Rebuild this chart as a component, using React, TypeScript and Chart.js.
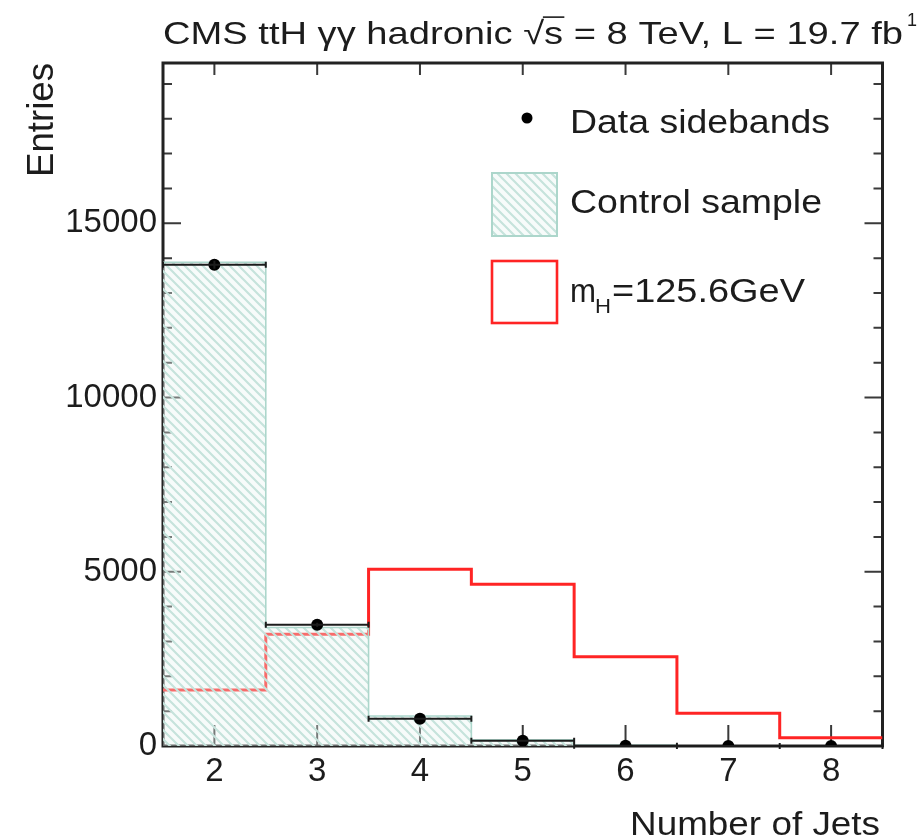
import React, { useEffect, useRef } from 'react';
import { Chart, registerables } from 'chart.js';

Chart.register(...registerables);

// Jet-multiplicity bins (bin centres) and per-bin entries
const jetBins = [2, 3, 4, 5, 6, 7, 8];
const dataSidebands = [13810, 3480, 780, 150, 10, 3, 1];
const controlSample = [13880, 3400, 860, 180, 20, 4, 1];
const signalMH = [1610, 3210, 5070, 4640, 2560, 940, 240];

// Axis ranges and tick values
const X_MIN = 1.5;
const X_MAX = 8.5;
const Y_MAX = 19600;
const xTickValues = [2, 3, 4, 5, 6, 7, 8];
const yMajorTicks = [0, 5000, 10000, 15000];
const yMinorTicks = [1000, 2000, 3000, 4000, 6000, 7000, 8000, 9000, 11000, 12000, 13000, 14000, 16000, 17000, 18000, 19000];

// Text
const titleRuns = ['CMS ttH ', 'γγ', ' hadronic ', '√', 's', ' = 8 TeV, L = 19.7 fb'];
const titleSup = '1';
const legendData = 'Data sidebands';
const legendControl = 'Control sample';
const legendSignalMain = 'm';
const legendSignalSub = 'H';
const legendSignalRest = '=125.6GeV';
const xTitle = 'Number of Jets';
const yTitle = 'Entries';

const W = 922;
const H = 840;
const FONT = '"Liberation Sans", Arial, Helvetica, sans-serif';
const RED = 'rgb(255, 36, 36)';
const HATCH_LINE = '#c6e3dc';
const HATCH_EDGE = '#acd6cb';
const INK = '#1c1c1c';

function histSteps(values: number[]) {
  const pts = jetBins.map((c, i) => ({ x: c - 0.5, y: values[i] }));
  const last = jetBins.length - 1;
  pts.push({ x: jetBins[last] + 0.5, y: values[last] });
  return pts;
}

function makeHatch(ctx: CanvasRenderingContext2D) {
  const s = 9;
  const c = document.createElement('canvas');
  c.width = s;
  c.height = s;
  const g = c.getContext('2d')!;
  g.fillStyle = 'rgba(232, 244, 241, 0.35)';
  g.fillRect(0, 0, s, s);
  g.strokeStyle = HATCH_LINE;
  g.lineWidth = 2.2;
  g.beginPath();
  g.moveTo(-2, -2);
  g.lineTo(s + 2, s + 2);
  g.moveTo(s - 3, -3);
  g.lineTo(s + 3, 3);
  g.moveTo(-3, s - 3);
  g.lineTo(3, s + 3);
  g.stroke();
  return ctx.createPattern(c, 'repeat')!;
}

// Draws text squeezed/stretched horizontally to a given width
function fitText(
  ctx: CanvasRenderingContext2D,
  text: string,
  x: number,
  y: number,
  size: number,
  width: number,
  align: 'left' | 'right' = 'left'
) {
  ctx.font = `${size}px ${FONT}`;
  const w = ctx.measureText(text).width;
  const sx = width / w;
  ctx.save();
  ctx.translate(x, y);
  ctx.scale(sx, 1);
  ctx.textAlign = 'left';
  ctx.textBaseline = 'alphabetic';
  ctx.fillText(text, align === 'right' ? -w : 0, 0);
  ctx.restore();
}

const backgroundPlugin = {
  id: 'whiteBackground',
  beforeDraw(chart: any) {
    const ctx = chart.ctx;
    ctx.save();
    ctx.fillStyle = '#ffffff';
    ctx.fillRect(0, 0, chart.width, chart.height);
    ctx.restore();
  },
};

// Frame with inward ticks on all four sides (drawn under the histograms)
const framePlugin = {
  id: 'rootFrame',
  beforeDatasetsDraw(chart: any) {
    const { ctx, chartArea: a, scales } = chart;
    const xs = scales.x;
    const ys = scales.y;
    ctx.save();
    ctx.strokeStyle = '#3a3a3a';
    ctx.lineWidth = 2;
    ctx.beginPath();
    yMajorTicks.forEach((v) => {
      const py = ys.getPixelForValue(v);
      ctx.moveTo(a.left, py);
      ctx.lineTo(a.left + 18, py);
      ctx.moveTo(a.right, py);
      ctx.lineTo(a.right - 18, py);
    });
    yMinorTicks.forEach((v) => {
      const py = ys.getPixelForValue(v);
      ctx.moveTo(a.left, py);
      ctx.lineTo(a.left + 9, py);
      ctx.moveTo(a.right, py);
      ctx.lineTo(a.right - 9, py);
    });
    xTickValues.forEach((v) => {
      const px = xs.getPixelForValue(v);
      ctx.moveTo(px, a.bottom);
      ctx.lineTo(px, a.bottom - 21);
      ctx.moveTo(px, a.top);
      ctx.lineTo(px, a.top + 12);
    });
    ctx.stroke();
    ctx.strokeStyle = '#222222';
    ctx.lineWidth = 3;
    ctx.strokeRect(a.left, a.top, a.right - a.left, a.bottom - a.top);
    ctx.restore();
  },
};

// Data error bars: bin-width horizontal bars with end marks, sqrt(N) vertical bars
const errorBarPlugin = {
  id: 'dataErrorBars',
  afterDatasetsDraw(chart: any) {
    const { ctx, scales } = chart;
    const xs = scales.x;
    const ys = scales.y;
    ctx.save();
    ctx.strokeStyle = INK;
    ctx.lineWidth = 2;
    ctx.beginPath();
    jetBins.forEach((c, i) => {
      const v = dataSidebands[i];
      const e = Math.sqrt(v);
      const x0 = xs.getPixelForValue(c - 0.5);
      const x1 = xs.getPixelForValue(c + 0.5);
      const xc = xs.getPixelForValue(c);
      const py = ys.getPixelForValue(v);
      ctx.moveTo(x0, py);
      ctx.lineTo(x1, py);
      ctx.moveTo(x0, py - 3);
      ctx.lineTo(x0, py + 3);
      ctx.moveTo(x1, py - 3);
      ctx.lineTo(x1, py + 3);
      ctx.moveTo(xc, ys.getPixelForValue(Math.max(0, v - e)));
      ctx.lineTo(xc, ys.getPixelForValue(v + e));
    });
    ctx.stroke();
    ctx.restore();
  },
};

// Title, axis titles and legend
const textPlugin = {
  id: 'rootTexts',
  afterDraw(chart: any) {
    const ctx: CanvasRenderingContext2D = chart.ctx;
    ctx.save();
    ctx.fillStyle = INK;

    // Title
    const size = 32;
    const base = 44;
    const x0 = 163;
    const target = 740;
    ctx.font = `${size}px ${FONT}`;
    const widths = titleRuns.map((r) => ctx.measureText(r).width);
    const total = widths.reduce((s, w) => s + w, 0);
    const sx = target / total;
    ctx.save();
    ctx.translate(x0, base);
    ctx.scale(sx, 1);
    ctx.textAlign = 'left';
    ctx.textBaseline = 'alphabetic';
    let cx = 0;
    titleRuns.forEach((r, i) => {
      ctx.fillText(r, cx, 0);
      if (r === 's' && i > 0 && titleRuns[i - 1] === '√') {
        ctx.strokeStyle = INK;
        ctx.lineWidth = 1.6;
        ctx.beginPath();
        ctx.moveTo(cx - 1, -size * 0.84);
        ctx.lineTo(cx + widths[i] + 1, -size * 0.84);
        ctx.stroke();
      }
      cx += widths[i];
    });
    ctx.restore();
    ctx.font = `18px ${FONT}`;
    ctx.textAlign = 'left';
    ctx.fillText(titleSup, x0 + target + 4, base - 18);

    // Axis titles
    fitText(ctx, xTitle, 880, 835, 33, 250, 'right');
    ctx.save();
    ctx.translate(53, 63);
    ctx.rotate(-Math.PI / 2);
    fitText(ctx, yTitle, 0, 0, 36, 114, 'right');
    ctx.restore();

    // Legend
    ctx.fillStyle = '#000000';
    ctx.beginPath();
    ctx.arc(527, 118, 5.5, 0, Math.PI * 2);
    ctx.fill();

    ctx.fillStyle = makeHatch(ctx);
    ctx.fillRect(492, 173, 65, 63);
    ctx.strokeStyle = HATCH_EDGE;
    ctx.lineWidth = 2;
    ctx.strokeRect(492, 173, 65, 63);

    ctx.strokeStyle = RED;
    ctx.lineWidth = 2.6;
    ctx.strokeRect(492, 261, 65, 62);

    ctx.fillStyle = INK;
    fitText(ctx, legendData, 570, 133, 34, 260);
    fitText(ctx, legendControl, 570, 213, 34, 252);
    fitText(ctx, legendSignalMain, 570, 302, 34, 26);
    fitText(ctx, legendSignalSub, 595, 313, 21, 16);
    fitText(ctx, legendSignalRest, 612, 302, 34, 193);
    ctx.restore();
  },
};

export default function App() {
  const canvasRef = useRef<HTMLCanvasElement | null>(null);

  useEffect(() => {
    const canvas = canvasRef.current;
    if (!canvas) return;
    const ctx = canvas.getContext('2d')!;
    const hatch = makeHatch(ctx);

    const chart = new Chart(ctx, {
      type: 'line',
      data: {
        datasets: [
          {
            label: 'mH=125.6GeV',
            data: histSteps(signalMH),
            stepped: 'before',
            borderColor: RED,
            borderWidth: 3,
            pointRadius: 0,
            fill: false,
            order: 3,
          },
          {
            label: 'Control sample',
            data: histSteps(controlSample),
            stepped: 'before',
            borderColor: HATCH_EDGE,
            borderWidth: 1.6,
            backgroundColor: hatch,
            pointRadius: 0,
            fill: 'origin',
            order: 2,
          },
          {
            type: 'scatter',
            label: 'Data sidebands',
            data: jetBins.map((c, i) => ({ x: c, y: dataSidebands[i] })),
            pointRadius: 6,
            pointBackgroundColor: '#000000',
            pointBorderWidth: 0,
            showLine: false,
            order: 1,
          },
        ] as any,
      },
      options: {
        responsive: false,
        maintainAspectRatio: false,
        animation: false,
        devicePixelRatio: 1,
        events: [],
        layout: { padding: { top: 63, right: 39.5, left: 0, bottom: 0 } },
        plugins: {
          legend: { display: false },
          tooltip: { enabled: false },
          title: { display: false },
        },
        scales: {
          x: {
            type: 'linear',
            min: X_MIN,
            max: X_MAX,
            afterFit: (s: any) => {
              s.height = H - 746;
            },
            afterBuildTicks: (s: any) => {
              s.ticks = xTickValues.map((v) => ({ value: v }));
            },
            grid: { display: false, drawTicks: false },
            border: { display: false },
            ticks: {
              color: INK,
              padding: 6,
              font: { family: FONT, size: 33 },
              callback: (v: any) => String(v),
              maxRotation: 0,
              autoSkip: false,
            },
          },
          y: {
            type: 'linear',
            min: 0,
            max: Y_MAX,
            afterFit: (s: any) => {
              s.width = 163;
            },
            afterBuildTicks: (s: any) => {
              s.ticks = yMajorTicks.map((v) => ({ value: v }));
            },
            grid: { display: false, drawTicks: false },
            border: { display: false },
            ticks: {
              color: INK,
              padding: 6,
              font: { family: FONT, size: 33 },
              callback: (v: any) => String(v),
              autoSkip: false,
            },
          },
        },
      } as any,
      plugins: [backgroundPlugin, framePlugin, errorBarPlugin, textPlugin],
    });

    return () => chart.destroy();
  }, []);

  return (
    <div style={{ position: 'fixed', left: 0, top: 0, width: W, height: H, background: '#fff' }}>
      <canvas ref={canvasRef} width={W} height={H} style={{ display: 'block', width: W, height: H }} />
    </div>
  );
}
